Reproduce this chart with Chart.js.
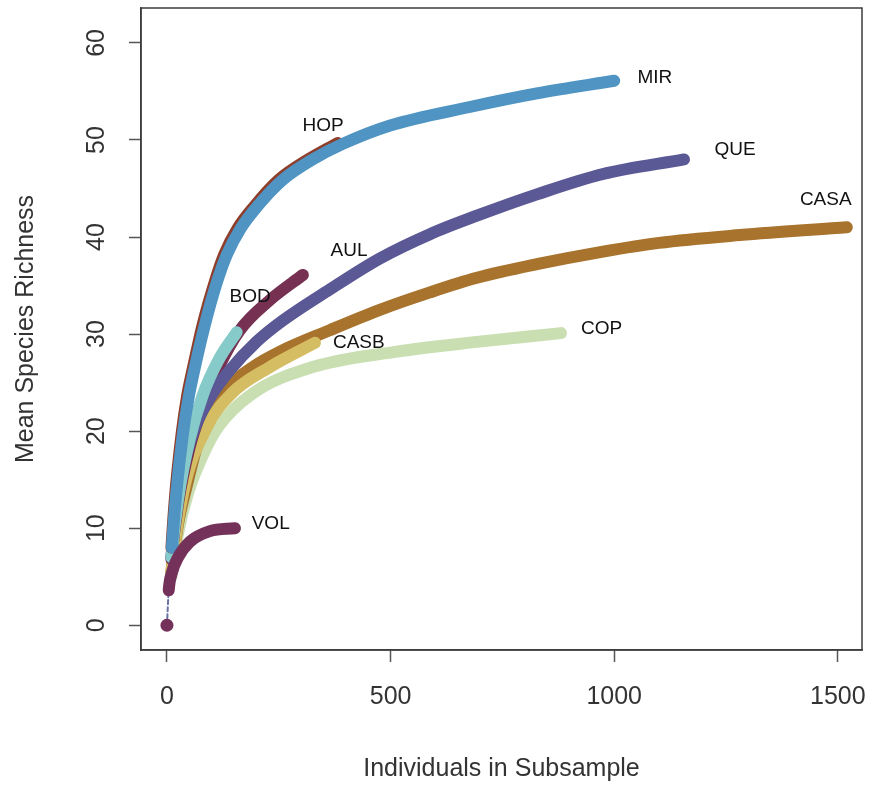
<!DOCTYPE html>
<html>
<head>
<meta charset="utf-8">
<script src="https://cdn.jsdelivr.net/npm/chart.js@4.4.1/dist/chart.umd.min.js"></script>
<style>
  html, body { margin: 0; background: #fff; }
  #wrap { width: 877px; height: 787px; }
</style>
</head>
<body>
<div id="wrap"><canvas id="chart"></canvas></div>
<script>
// Axis ticks
const xTicks = [0, 500, 1000, 1500];
const yTicks = [0, 10, 20, 30, 40, 50, 60];

// Rarefaction curves (individuals, mean richness)
const mirX = [0, 11, 20, 36, 49, 63, 85, 112, 134, 165, 201, 259, 326, 393, 499, 677, 827, 1000];
const mirY = [0, 8.0, 13.2, 19.8, 23.6, 26.7, 31.0, 35.4, 38.2, 40.9, 43.1, 45.9, 48.0, 49.6, 51.5, 53.4, 54.8, 56.1];

const hopX = [0, 10, 18, 33, 45, 59, 80, 107, 128, 158, 194, 250, 316, 382];
const hopY = [0, 8.0, 13.2, 19.8, 23.6, 26.7, 31.0, 35.4, 38.2, 40.9, 43.1, 45.9, 48.0, 49.7];

const queX = [0, 10, 25, 56, 101, 141, 200, 253, 364, 476, 588, 693, 827, 975, 1156];
const queY = [0, 7.0, 13.6, 19.5, 23.8, 26.3, 29.2, 31.2, 34.6, 37.8, 40.3, 42.2, 44.4, 46.5, 48.0];

const aulX = [0, 10, 25, 50, 80, 115, 163, 230, 304];
const aulY = [0, 6.8, 12.6, 18.2, 22.5, 26.5, 30.4, 33.5, 36.1];

const bodX = [0, 10, 25, 51, 80, 115, 156];
const bodY = [0, 7.0, 13.0, 19.2, 23.7, 27.3, 30.2];

const casaX = [0, 10, 25, 45, 74, 125, 192, 253, 364, 476, 588, 693, 827, 975, 1100, 1281, 1520];
const casaY = [0, 5.5, 10.5, 14.5, 19.5, 23.9, 26.6, 28.2, 30.4, 32.5, 34.3, 35.8, 37.2, 38.5, 39.4, 40.2, 41.0];

const casbX = [0, 10, 36, 89, 145, 230, 331];
const casbY = [0, 5.5, 13.6, 20.4, 23.9, 26.6, 29.1];

const copX = [0, 10, 25, 47, 80, 114, 192, 326, 514, 693, 881];
const copY = [0, 5.0, 9.5, 13.6, 17.5, 20.4, 23.9, 26.6, 28.2, 29.2, 30.1];

const volX = [0, 4, 11, 25, 51, 96, 152];
const volY = [0, 3.6, 5.4, 7.0, 8.6, 9.7, 10.0];

// Site labels placed next to the curve ends (data units)
const siteNames = ['VOL', 'MIR', 'HOP', 'BOD', 'QUE', 'AUL', 'CASB', 'CASA', 'COP'];
const labelX = [232, 1091, 349, 186, 1270, 407, 429, 1473, 972];
const labelY = [10.5, 56.4, 51.5, 33.8, 49.0, 38.6, 29.1, 43.8, 30.5];

const seriesX = [volX, mirX, hopX, bodX, queX, aulX, casbX, casaX, copX];
const seriesY = [volY, mirY, hopY, bodY, queY, aulY, casbY, casaY, copY];
const colors = ['#74325a', '#4f94c2', '#8e3e2a', '#86caca', '#5a5895', '#753052', '#d4bd62', '#a8732d', '#c9dfb2'];

const FONT = '"Liberation Sans", Arial, Helvetica, sans-serif';

// the step from the origin is only a thin dashed stub (VOL), the rest start at their first subsample
const datasets = siteNames.map((name, i) => ({
    label: name,
    data: seriesX[i].map((x, j) => ({ x, y: seriesY[i][j] })),
    borderColor: colors[i],
    backgroundColor: colors[i],
    borderWidth: 12,
    borderCapStyle: 'round',
    borderJoinStyle: 'round',
    pointRadius: c => (i === 0 && c.dataIndex === 0) ? 6.5 : 0,
    pointBorderWidth: 0,
    showLine: true,
    fill: false,
    cubicInterpolationMode: 'monotone',
    segment: {
        borderColor: c => c.p0DataIndex === 0 ? (i === 0 ? '#6a72a4' : 'rgba(0,0,0,0)') : undefined,
        borderWidth: c => c.p0DataIndex === 0 ? 2 : undefined,
        borderDash: c => c.p0DataIndex === 0 ? [4, 3] : undefined
    },
    order: i
}));

// R-like frame, tick labels, titles and site names
const rFrame = {
    id: 'rFrame',
    afterDraw(chart) {
        const { ctx, chartArea: a, scales: { x, y } } = chart;
        ctx.save();
        ctx.strokeStyle = '#3c3c3c';
        ctx.lineWidth = 1.5;
        ctx.strokeRect(a.left, a.top, a.right - a.left, a.bottom - a.top);

        ctx.fillStyle = '#333';
        ctx.textAlign = 'center';
        ctx.textBaseline = 'middle';
        ctx.font = '25px ' + FONT;
        xTicks.forEach(v => ctx.fillText(String(v), x.getPixelForValue(v), a.bottom + 47));
        yTicks.forEach(v => {
            ctx.save();
            ctx.translate(a.left - 44, y.getPixelForValue(v));
            ctx.rotate(-Math.PI / 2);
            ctx.fillText(String(v), 0, 0);
            ctx.restore();
        });

        ctx.fillText('Individuals in Subsample', (a.left + a.right) / 2, a.bottom + 119);
        ctx.save();
        ctx.translate(a.left - 115, (a.top + a.bottom) / 2);
        ctx.rotate(-Math.PI / 2);
        ctx.fillText('Mean Species Richness', 0, 0);
        ctx.restore();

        ctx.fillStyle = '#111';
        ctx.font = '19px ' + FONT;
        siteNames.forEach((name, i) => {
            ctx.fillText(name, x.getPixelForValue(labelX[i]), y.getPixelForValue(labelY[i]));
        });
        ctx.restore();
    }
};

new Chart(document.getElementById('chart'), {
    type: 'line',
    data: { datasets },
    options: {
        responsive: true,
        maintainAspectRatio: false,
        animation: false,
        layout: { padding: { top: 8, right: 15, left: 0, bottom: 0 } },
        plugins: { legend: { display: false }, tooltip: { enabled: false } },
        scales: {
            x: {
                type: 'linear',
                min: -58,
                max: 1554,
                afterBuildTicks: s => { s.ticks = xTicks.map(v => ({ value: v })); },
                afterFit: s => { s.height = 137; },
                ticks: { display: false },
                grid: { drawOnChartArea: false, drawTicks: true, tickLength: 12, color: '#555', tickWidth: 1.5 },
                border: { display: true, color: '#3c3c3c', width: 1.5 }
            },
            y: {
                type: 'linear',
                min: -2.55,
                max: 63.6,
                afterBuildTicks: s => { s.ticks = yTicks.map(v => ({ value: v })); },
                afterFit: s => { s.width = 141; },
                ticks: { display: false },
                grid: { drawOnChartArea: false, drawTicks: true, tickLength: 12, color: '#555', tickWidth: 1.5 },
                border: { display: true, color: '#3c3c3c', width: 1.5 }
            }
        }
    },
    plugins: [rFrame]
});
</script>
</body>
</html>
